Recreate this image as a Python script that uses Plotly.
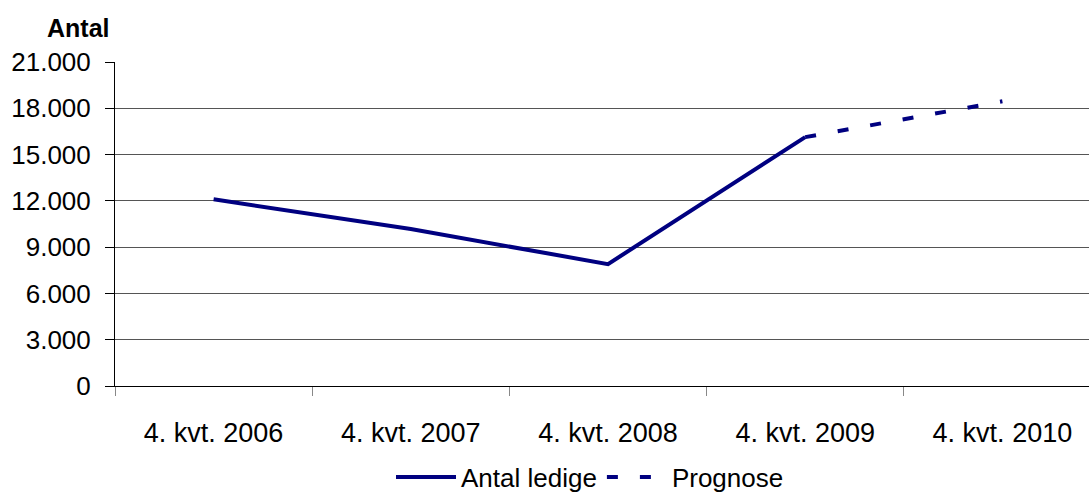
import plotly.graph_objects as go

categories = ["4. kvt. 2006", "4. kvt. 2007", "4. kvt. 2008", "4. kvt. 2009", "4. kvt. 2010"]
antal_ledige = [12100, 10170, 7900, 16130, None]
prognose = [None, None, None, 16130, 18450]
y_ticks = [0, 3000, 6000, 9000, 12000, 15000, 18000, 21000]

FONT = "Liberation Sans, Arial, sans-serif"
NAVY = "#000080"

L, R, T, B = 115, 0, 62, 112
W, H = 1089, 498
PW, PH = W - L - R, H - T - B

fig = go.Figure()
fig.add_trace(go.Scatter(x=categories, y=antal_ledige, mode="lines", name="Antal ledige",
                         line=dict(color=NAVY, width=4)))
fig.add_trace(go.Scatter(x=categories, y=prognose, mode="lines", name="Prognose",
                         line=dict(color=NAVY, width=4, dash="11px,22px")))

fig.update_layout(
    width=W, height=H,
    margin=dict(l=L, r=R, t=T, b=B, autoexpand=False),
    paper_bgcolor="white", plot_bgcolor="white",
    separators=",.",
    font=dict(family=FONT, size=26, color="#000"),
    showlegend=True,
    legend=dict(orientation="h", xref="container", yref="container",
                x=590 / W, xanchor="center",
                y=1 - 477 / H, yanchor="middle",
                font=dict(size=26), itemwidth=60, traceorder="normal",
                bgcolor="rgba(0,0,0,0)"),
    annotations=[dict(text="<b>Antal</b>", x=(78 - L) / PW, y=1 + (T - 28) / PH,
                      xref="paper", yref="paper", xanchor="center", yanchor="middle",
                      showarrow=False, font=dict(size=25))],
)

fig.update_xaxes(type="category", range=[-0.5, -0.5 + PW / 197.2],
                 showline=True, linecolor="#000", linewidth=1,
                 ticks="outside", ticklen=9, tickcolor="#888", tickson="boundaries",
                 showgrid=False, tickfont=dict(size=27), ticklabelstandoff=23,
                 automargin=False)
fig.update_yaxes(range=[0, 21000], tickvals=y_ticks, tickformat=",d",
                 showline=True, linecolor="#000", linewidth=1,
                 ticks="outside", ticklen=9, tickcolor="#000",
                 showgrid=True, gridcolor="#555", gridwidth=1,
                 tickfont=dict(size=26), zeroline=False, ticklabelstandoff=9,
                 automargin=False)

fig.write_html("out.html", config={"displayModeBar": False}, post_script=(
    "document.body.style.margin='0';document.body.style.overflow='hidden';"
    "document.documentElement.style.overflow='hidden';"))
